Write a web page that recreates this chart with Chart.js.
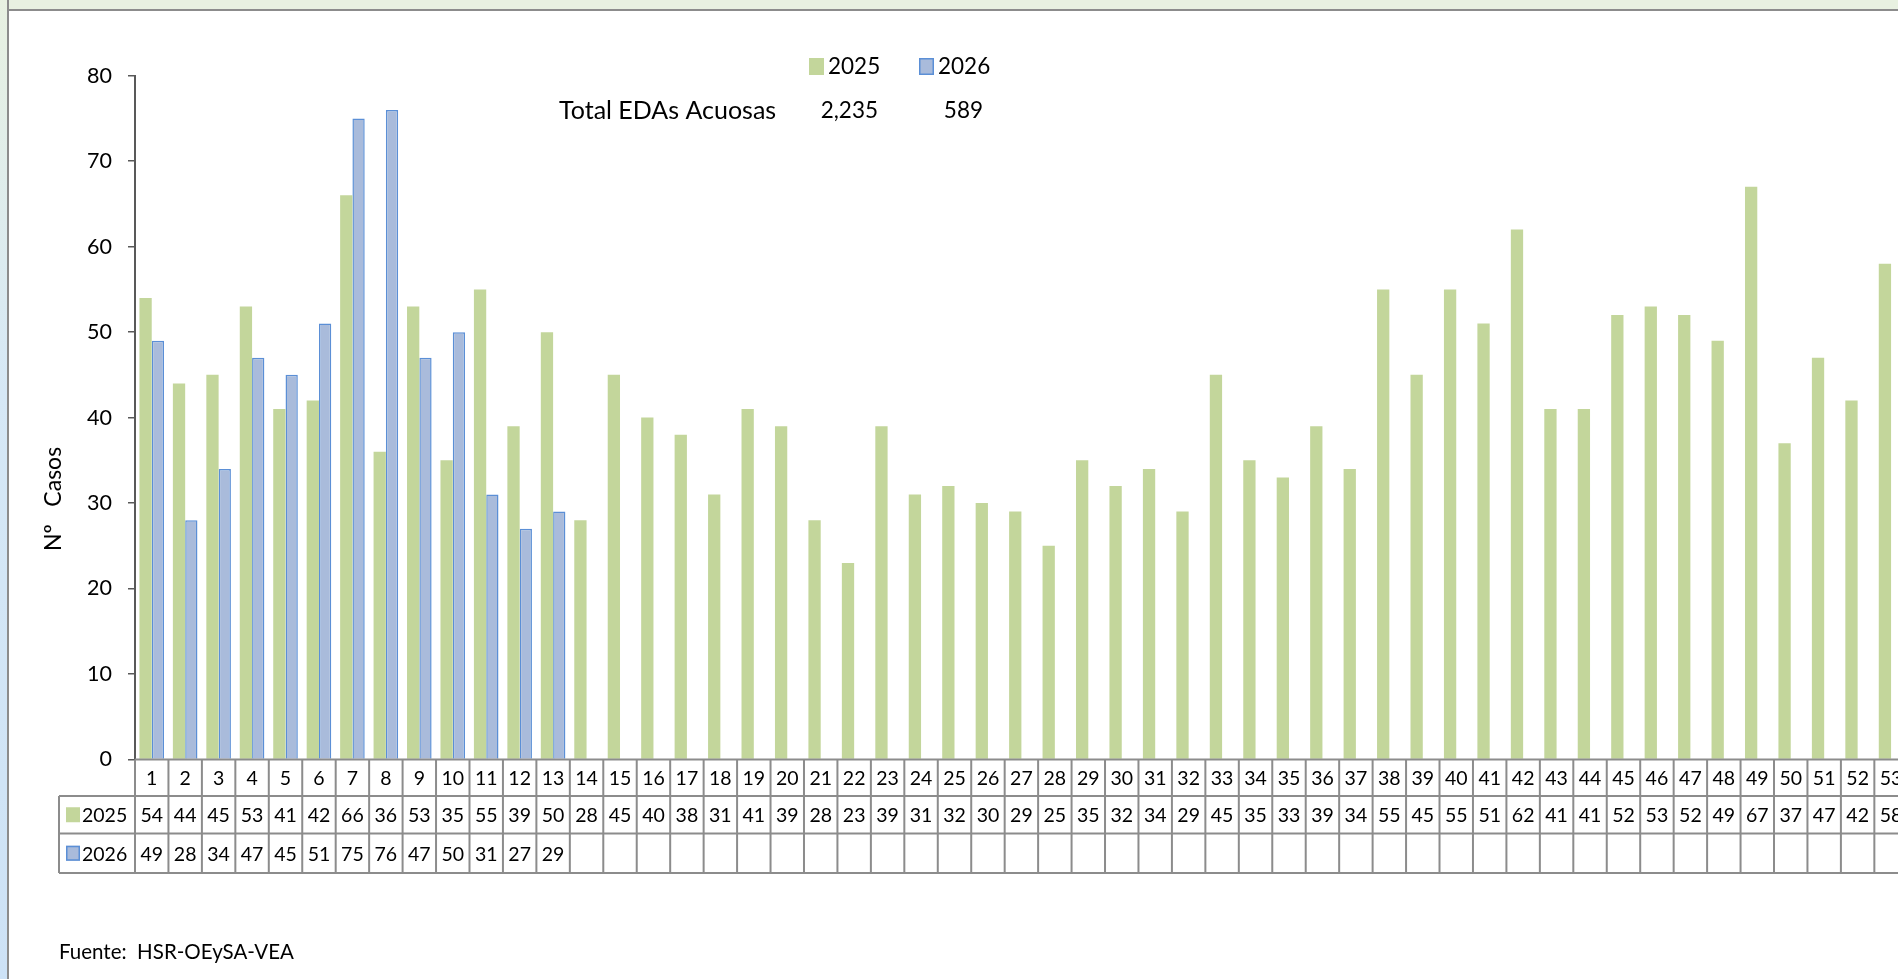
<!DOCTYPE html>
<html lang="es">
<head>
    <meta charset="UTF-8">
    <title>EDAs Acuosas 2025 - 2026</title>
    <script src="https://cdn.jsdelivr.net/npm/chart.js"></script>
    <style>
        html, body {
            margin: 0;
            padding: 0;
            width: 1898px;
            height: 979px;
            overflow: hidden;
            background: #ffffff;
            font-family: 'Lato', sans-serif;
        }
        .top-strip {
            position: absolute;
            left: 0; top: 0;
            width: 1898px; height: 9px;
            background: #e8f1e1;
            border-bottom: 2px solid #8c8c8c;
        }
        .left-strip {
            position: absolute;
            left: 0; top: 0;
            width: 7px; height: 979px;
            background: linear-gradient(#e8f1e1, #d6e8f6 40%, #cde2f6);
            border-right: 2px solid #8c8c8c;
        }
        #chart {
            position: absolute;
            left: 0; top: 0;
        }
    </style>
</head>
<body>
    <div class="top-strip"></div>
    <div class="left-strip"></div>
    <canvas id="chart" width="1920" height="979"></canvas>

    <script>
        // semanas epidemiologicas
        const weeks = Array.from({ length: 53 }, (_, i) => String(i + 1));
        const cases2025 = [54, 44, 45, 53, 41, 42, 66, 36, 53, 35, 55, 39, 50,
            28, 45, 40, 38, 31, 41, 39, 28, 23, 39, 31, 32, 30, 29, 25, 35, 32, 34, 29, 45, 35, 33, 39, 34,
            55, 45, 55, 51, 62, 41, 41, 52, 53, 52, 49, 67, 37, 47, 42, 58];
        const cases2026 = [49, 28, 34, 47, 45, 51, 75, 76, 47, 50, 31, 27, 29];
        const yTicks = [0, 10, 20, 30, 40, 50, 60, 70, 80];
        const seriesNames = ['2025', '2026'];

        const total2025 = cases2025.reduce((a, b) => a + b, 0);
        const total2026 = cases2026.reduce((a, b) => a + b, 0);

        const GREEN = '#c3d69b';
        const BLUE = '#a9bbdb';
        const BLUE_EDGE = '#5b8fd6';
        const GRID = '#8c8c8c';
        const FONT = "'Lato', sans-serif";

        // filas de la tabla de datos bajo el eje
        const rowY = [759.5, 796, 833.5, 873];
        const headLeft = 59;

        const tablePlugin = {
            id: 'tablePlugin',
            afterDraw(chart) {
                const ctx = chart.ctx;
                const x = chart.scales.x;
                const n = weeks.length;
                const colW = (x.right - x.left) / n;

                ctx.save();
                ctx.strokeStyle = GRID;
                ctx.lineWidth = 2;
                ctx.beginPath();
                ctx.moveTo(x.left, rowY[0]);
                ctx.lineTo(x.right, rowY[0]);
                for (let r = 1; r < rowY.length; r++) {
                    ctx.moveTo(headLeft, rowY[r]);
                    ctx.lineTo(x.right, rowY[r]);
                }
                for (let i = 0; i <= n; i++) {
                    const bx = x.left + i * colW;
                    ctx.moveTo(bx, rowY[0]);
                    ctx.lineTo(bx, rowY[3]);
                }
                ctx.moveTo(headLeft, rowY[1]);
                ctx.lineTo(headLeft, rowY[3]);
                ctx.stroke();

                ctx.fillStyle = '#000';
                ctx.font = '19.5px ' + FONT;
                ctx.textAlign = 'center';
                ctx.textBaseline = 'middle';
                const rows = [weeks, cases2025, cases2026];
                rows.forEach((vals, r) => {
                    const cy = (rowY[r] + rowY[r + 1]) / 2 + 1;
                    vals.forEach((v, i) => {
                        ctx.fillText(String(v), x.getPixelForValue(i), cy);
                    });
                });

                // claves de la leyenda en la tabla
                const keys = [[GREEN, null], [BLUE, BLUE_EDGE]];
                keys.forEach((k, r) => {
                    const cy = (rowY[r + 1] + rowY[r + 2]) / 2;
                    ctx.fillStyle = k[0];
                    ctx.fillRect(66, cy - 7.5, 14, 15);
                    if (k[1]) {
                        ctx.strokeStyle = k[1];
                        ctx.lineWidth = 1.5;
                        ctx.strokeRect(66.75, cy - 6.75, 12.5, 13.5);
                    }
                    ctx.fillStyle = '#000';
                    ctx.textAlign = 'left';
                    ctx.fillText(seriesNames[r], 82, cy + 1);
                });

                // leyenda superior y totales
                ctx.font = '22.5px ' + FONT;
                ctx.fillStyle = GREEN;
                ctx.fillRect(809, 58, 15, 17);
                ctx.fillStyle = BLUE;
                ctx.fillRect(919, 58, 15, 17);
                ctx.strokeStyle = BLUE_EDGE;
                ctx.lineWidth = 1.5;
                ctx.strokeRect(919.75, 58.75, 13.5, 15.5);
                ctx.fillStyle = '#000';
                ctx.textAlign = 'left';
                ctx.fillText(seriesNames[0], 828, 67);
                ctx.fillText(seriesNames[1], 938, 67);
                ctx.textAlign = 'right';
                ctx.fillText(total2025.toLocaleString('en-US'), 878, 111);
                ctx.fillText(total2026.toLocaleString('en-US'), 983, 111);
                ctx.font = '25px ' + FONT;
                ctx.textAlign = 'left';
                ctx.fillText('Total EDAs Acuosas', 559, 111);

                // titulo del eje y
                ctx.save();
                ctx.font = '23px ' + FONT;
                ctx.translate(54, 499);
                ctx.rotate(-Math.PI / 2);
                ctx.textAlign = 'center';
                ctx.fillText('Nº   Casos', 0, 0);
                ctx.restore();

                ctx.font = '20.5px ' + FONT;
                ctx.textAlign = 'left';
                ctx.fillText('Fuente:  HSR-OEySA-VEA', 59, 952);
                ctx.restore();
            }
        };

        const ctx = document.getElementById('chart').getContext('2d');
        const chart = new Chart(ctx, {
            type: 'bar',
            data: {
                labels: weeks,
                datasets: [
                    {
                        label: seriesNames[0],
                        data: cases2025,
                        backgroundColor: GREEN,
                        borderWidth: 0
                    },
                    {
                        label: seriesNames[1],
                        data: cases2026,
                        backgroundColor: BLUE,
                        borderColor: BLUE_EDGE,
                        borderWidth: 1.5
                    }
                ]
            },
            options: {
                responsive: false,
                animation: false,
                categoryPercentage: 0.735,
                barPercentage: 1,
                layout: {
                    padding: { left: 0, top: 75.7, right: 12.2, bottom: 219.5 }
                },
                plugins: {
                    legend: { display: false },
                    tooltip: { enabled: false }
                },
                scales: {
                    x: {
                        display: false,
                        offset: true
                    },
                    y: {
                        min: 0,
                        max: 80,
                        afterFit(scale) { scale.width = 135; },
                        afterBuildTicks(scale) {
                            scale.ticks = yTicks.map(v => ({ value: v }));
                        },
                        ticks: {
                            color: '#000',
                            padding: 16,
                            font: { family: 'Lato', size: 21.5 }
                        },
                        grid: {
                            drawOnChartArea: false,
                            drawTicks: true,
                            tickLength: 7,
                            color: '#595959',
                            lineWidth: 1.5
                        },
                        border: { display: true, color: '#595959', width: 2 }
                    }
                }
            },
            plugins: [tablePlugin]
        });
    </script>
</body>
</html>
